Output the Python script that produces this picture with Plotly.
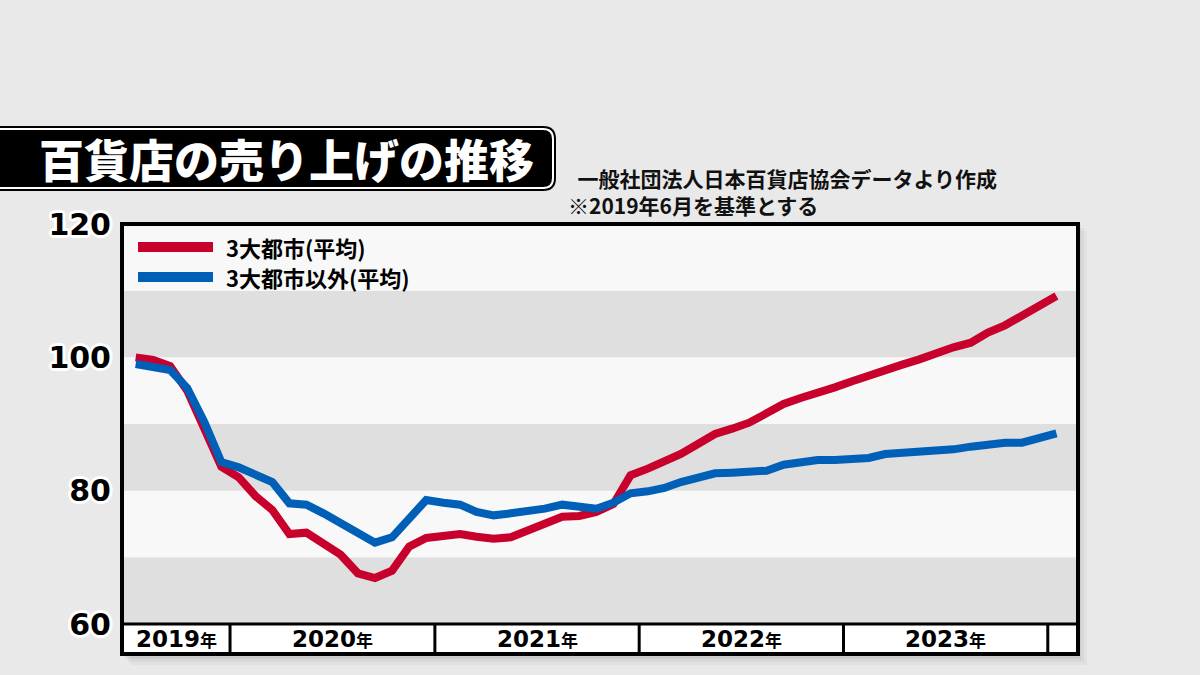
import plotly.graph_objects as go
import pandas as pd

# ---------------- data ----------------
months = [
    "2019-07", "2019-08", "2019-09", "2019-10", "2019-11", "2019-12",
    "2020-01", "2020-02", "2020-03", "2020-04", "2020-05", "2020-06",
    "2020-07", "2020-08", "2020-09", "2020-10", "2020-11", "2020-12",
    "2021-01", "2021-02", "2021-03", "2021-04", "2021-05", "2021-06",
    "2021-07", "2021-08", "2021-09", "2021-10", "2021-11", "2021-12",
    "2022-01", "2022-02", "2022-03", "2022-04", "2022-05", "2022-06",
    "2022-07", "2022-08", "2022-09", "2022-10", "2022-11", "2022-12",
    "2023-01", "2023-02", "2023-03", "2023-04", "2023-05", "2023-06",
    "2023-07", "2023-08", "2023-09", "2023-10", "2023-11", "2023-12",
    "2024-01",
]
big3 = [
    100.0, 99.6, 98.7, 95.0, 89.3, 83.6,
    82.0, 79.2, 77.1, 73.5, 73.7, 72.2,
    70.4, 67.6, 66.9, 68.0, 71.6, 72.9,
    73.2, 73.5, 73.1, 72.8, 73.0, 74.1,
    75.1, 76.1, 76.2, 76.8, 78.0, 82.3,
    83.3, 84.3, 85.5, 87.0, 88.5, 89.3,
    90.2, 91.6, 93.0, 93.9, 94.6, 95.5,
    96.4, 97.3, 98.2, 98.9, 99.7, 100.7,
    101.5, 102.2, 103.7, 104.8, 106.2, 107.6,
    109.2,
]
others = [
    99.0, 98.5, 98.1, 95.4, 90.3, 84.3,
    83.5, 82.4, 81.3, 78.1, 77.9, 76.6,
    75.1, 73.4, 72.2, 73.0, 76.0, 78.6,
    78.2, 77.9, 76.8, 76.3, 76.6, 76.8,
    77.3, 77.9, 77.5, 77.3, 78.2, 79.6,
    79.9, 80.4, 81.3, 82.1, 82.6, 82.7,
    82.8, 83.0, 83.9, 84.3, 84.6, 84.6,
    84.7, 84.9, 85.5, 85.6, 85.7, 85.9,
    86.2, 86.6, 87.0, 87.2, 87.2, 87.9,
    88.6,
]
series_names = ["3大都市(平均)", "3大都市以外(平均)"]
year_labels = ["2019", "2020", "2021", "2022", "2023"]
y_ticks = [60, 80, 100, 120]

title_text = "百貨店の売り上げの推移"
source_text = "一般社団法人日本百貨店協会データより作成"
note_text = "※2019年6月を基準とする"

# ---------------- layout geometry ----------------
W, H = 1200, 675
L, R, T, B = 122, 122, 224, 51
PW, PH = W - L - R, H - T - B
x_range = ["2019-06-22", "2024-02-24"]
RED = "#c8002c"
BLUE = "#0060b8"
JP = "Noto Sans CJK JP"


def px(x):
    return (x - L) / PW


def py(y):
    return (H - B - y) / PH


band_y0 = py(654)

fig = go.Figure()
for name, vals, col in [(series_names[0], big3, RED), (series_names[1], others, BLUE)]:
    fig.add_trace(go.Scatter(
        x=months, y=vals, name=name, mode="lines",
        xperiod="M1", xperiodalignment="middle",
        line=dict(color=col, width=8), showlegend=False,
    ))

shapes = []
# soft drop shadow to the right of / below the chart box (outside the plot area)
for k, a in [(9, 0.03), (6, 0.04), (3, 0.06)]:
    shapes.append(dict(type="rect", xref="paper", yref="paper", layer="below",
                       x0=px(1078), x1=px(1078 + k), y0=py(656 + k), y1=py(222 + k),
                       fillcolor=f"rgba(0,0,0,{a})", line=dict(width=0)))
    shapes.append(dict(type="rect", xref="paper", yref="paper", layer="below",
                       x0=px(122 + k), x1=px(1078), y0=py(656 + k), y1=py(656),
                       fillcolor=f"rgba(0,0,0,{a})", line=dict(width=0)))
# year band background
shapes.append(dict(type="rect", xref="paper", yref="paper", layer="below",
                   x0=0, x1=1, y0=band_y0, y1=0, fillcolor="white", line=dict(width=0)))
# stripes
for lo, col in [(60, "#dfdfdf"), (70, "#f8f8f8"), (80, "#dfdfdf"),
                (90, "#f8f8f8"), (100, "#dfdfdf"), (110, "#f8f8f8")]:
    shapes.append(dict(type="rect", xref="paper", yref="y", layer="below",
                       x0=0, x1=1, y0=lo, y1=lo + 10, fillcolor=col, line=dict(width=0)))
# band top line and year separators
shapes.append(dict(type="line", xref="paper", yref="paper", x0=0, x1=1, y0=0, y1=0,
                   line=dict(color="black", width=3)))
for yr in year_labels[1:] + ["2024"]:
    shapes.append(dict(type="line", xref="x", yref="paper", x0=f"{yr}-01-01", x1=f"{yr}-01-01",
                       y0=band_y0, y1=0, line=dict(color="black", width=3)))
# outer frame
shapes.append(dict(type="rect", xref="paper", yref="paper", x0=0, x1=1, y0=band_y0, y1=1,
                   line=dict(color="black", width=4), fillcolor="rgba(0,0,0,0)"))
# legend samples
for yy, col in [(247, RED), (277, BLUE)]:
    shapes.append(dict(type="line", xref="paper", yref="paper", x0=px(138), x1=px(213),
                       y0=py(yy), y1=py(yy), line=dict(color=col, width=10)))


def rounded(x0, y0, x1, y1, r):
    pts = [
        f"M{px(x0 + r)},{py(y0)}", f"L{px(x1 - r)},{py(y0)}",
        f"Q{px(x1)},{py(y0)} {px(x1)},{py(y0 + r)}", f"L{px(x1)},{py(y1 - r)}",
        f"Q{px(x1)},{py(y1)} {px(x1 - r)},{py(y1)}", f"L{px(x0 + r)},{py(y1)}",
        f"Q{px(x0)},{py(y1)} {px(x0)},{py(y1 - r)}", f"L{px(x0)},{py(y0 + r)}",
        f"Q{px(x0)},{py(y0)} {px(x0 + r)},{py(y0)}", "Z",
    ]
    return " ".join(pts)


shapes.append(dict(type="path", xref="paper", yref="paper", path=rounded(-30, 126, 556, 191, 13),
                   fillcolor="black", line=dict(width=0)))
shapes.append(dict(type="path", xref="paper", yref="paper", path=rounded(-27, 129, 553, 188, 10),
                   fillcolor="rgba(0,0,0,0)", line=dict(color="white", width=2)))

annotations = []
# year labels
rs, re_ = pd.Timestamp(x_range[0]), pd.Timestamp(x_range[1])
for yr in year_labels:
    a = max(rs, pd.Timestamp(f"{yr}-01-01"))
    b = min(re_, pd.Timestamp(f"{int(yr) + 1}-01-01"))
    c = a + (b - a) / 2
    annotations.append(dict(
        x=c.strftime("%Y-%m-%d %H:%M"), y=py(639), xref="x", yref="paper",
        text=f"{yr}<span style='font-size:17px'>年</span>", showarrow=False,
        font=dict(family=f"DejaVu Sans, {JP}", size=23, color="black", weight=700),
        xanchor="center", yanchor="middle"))
# legend texts
for yy, name in [(247, series_names[0]), (277, series_names[1])]:
    annotations.append(dict(x=px(224), y=py(yy), xref="paper", yref="paper", text=name,
                            showarrow=False, xanchor="left", yanchor="middle",
                            font=dict(family=JP, size=22, color="black", weight=700)))
# title and notes
annotations.append(dict(x=px(286), y=py(159), xref="paper", yref="paper", text=title_text,
                        showarrow=False, xanchor="center", yanchor="middle",
                        font=dict(family=JP, size=45, color="white", weight=900)))
annotations.append(dict(x=px(566), y=py(191), xref="paper", yref="paper",
                        text="&nbsp;&nbsp;" + source_text + "<br>" + note_text,
                        showarrow=False, xanchor="left", yanchor="middle", align="left",
                        font=dict(family=JP, size=21, color="#111111", weight=700)))

outline = ", ".join(f"{dx}px {dy}px 0 #ffffff" for dx, dy in
                    [(2, 0), (-2, 0), (0, 2), (0, -2), (2, 2), (-2, -2), (2, -2), (-2, 2),
                     (3, 0), (-3, 0), (0, 3), (0, -3)])

fig.update_layout(
    width=W, height=H,
    margin=dict(l=L, r=R, t=T, b=B, pad=0),
    paper_bgcolor="#e9e9e9",
    plot_bgcolor="#f8f8f8",
    shapes=shapes,
    annotations=annotations,
    xaxis=dict(type="date", range=x_range, showgrid=False, zeroline=False,
               showticklabels=False, ticks="", showline=False, fixedrange=True),
    yaxis=dict(range=[60, 120], tickvals=y_ticks, ticktext=[str(v) for v in y_ticks],
               showgrid=False, zeroline=False, ticks="", showline=False,
               ticklabelstandoff=10, fixedrange=True,
               tickfont=dict(family="DejaVu Sans", size=30, color="black", weight=700,
                             shadow=outline)),
    showlegend=False,
)

fig.write_html("out.html", config={"displayModeBar": False},
               post_script="document.body.style.margin='0';document.body.style.overflow='hidden';")
